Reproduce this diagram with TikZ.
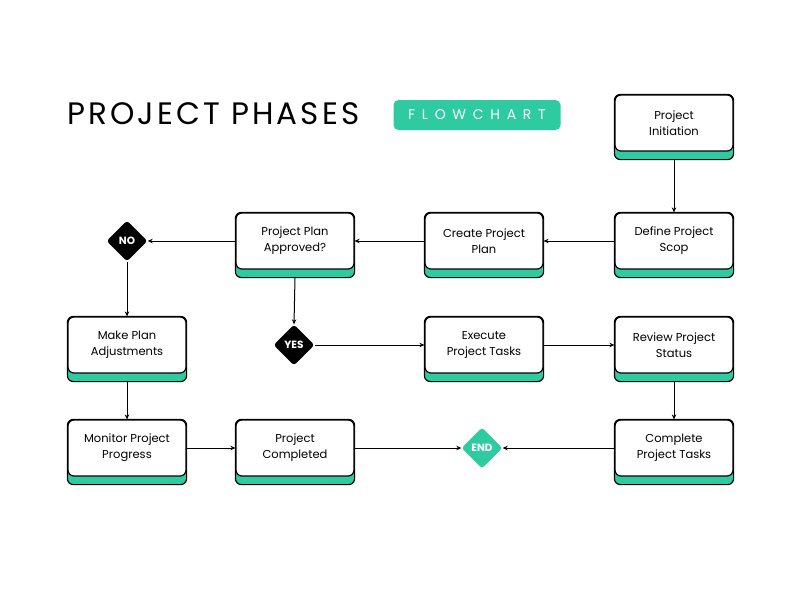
\documentclass[tikz,border=0pt]{standalone}
\usepackage{fontspec}
\setmainfont{Poppins}
\newfontfamily\badgefont[LetterSpace=48]{Poppins}
\newfontfamily\titlefont[LetterSpace=10]{Poppins}
\usetikzlibrary{shapes.geometric,arrows.meta,backgrounds}
\definecolor{mint}{HTML}{2ECBA1}
\newcommand{\strip}[1]{\draw[line width=1.2pt, fill=mint, rounded corners=6pt] (#1.north west) rectangle ([yshift=-8pt]#1.south east);}

\begin{document}
\begin{tikzpicture}[x=1pt,y=-1pt,
	phase/.style={draw, line width=1.2pt, fill=white, rounded corners=6pt, minimum width=118pt, minimum height=56pt, align=center, inner sep=2pt, font=\fontsize{11.5}{16}\selectfont},
	decision/.style={diamond, fill=black, rounded corners=3pt, minimum width=41pt, minimum height=41pt, inner sep=0pt, text=white, font=\fontsize{10.5}{10.5}\selectfont\bfseries},
	flow/.style={-{Stealth[length=5pt,width=4.5pt]}, line width=1pt}]
	\useasboundingbox (0,0) rectangle (800,600);
	% heading
	\node[anchor=west, inner sep=0pt, font=\titlefont\fontsize{31}{31}\selectfont] (title) at (67,114) {PROJECT PHASES};
	\node[fill=mint, rounded corners=5pt, minimum width=167pt, minimum height=30pt, text=white, font=\badgefont\fontsize{14}{14}\selectfont] (badge) at (477,115) {FLOWCHART};
	% phases
	\node[phase] (init) at (674,123) {Project\\Initiation};
	\node[phase] (scope) at (674,241) {Define Project\\Scop};
	\node[phase] (plan) at (484,241) {Create Project\\Plan};
	\node[phase] (approved) at (295,241) {Project Plan\\Approved?};
	\node[phase] (adjust) at (127,345) {Make Plan\\Adjustments};
	\node[phase] (execute) at (484,345) {Execute\\Project Tasks};
	\node[phase] (review) at (674,345) {Review Project\\Status};
	\node[phase] (monitor) at (127,448) {Monitor Project\\Progress};
	\node[phase] (completed) at (295,448) {Project\\Completed};
	\node[phase] (tasks) at (674,448) {Complete\\Project Tasks};
	% decisions
	\node[decision] (no) at (127,241) {NO};
	\node[decision] (yes) at (294,345) {YES};
	\node[decision, fill=mint] (end) at (482,448) {END};
	\begin{scope}[on background layer]
		\foreach \n in {init,scope,plan,approved,adjust,execute,review,monitor,completed,tasks}
			{\strip{\n}}
	\end{scope}
	% connectors
	\draw[flow] ([yshift=-8pt]init.south) -- (scope.north);
	\draw[flow] (scope.west) -- (plan.east);
	\draw[flow] (plan.west) -- (approved.east);
	\draw[flow] (approved.west) -- (no.east);
	\draw[flow] (no.south) -- (adjust.north);
	\draw[flow] ([yshift=-8pt]approved.south) -- (yes.north);
	\draw[flow] (yes.east) -- (execute.west);
	\draw[flow] (execute.east) -- (review.west);
	\draw[flow] ([yshift=-8pt]review.south) -- (tasks.north);
	\draw[flow] ([yshift=-8pt]adjust.south) -- (monitor.north);
	\draw[flow] (monitor.east) -- (completed.west);
	\draw[flow] (completed.east) -- (end.west);
	\draw[flow] (tasks.west) -- (end.east);
\end{tikzpicture}
\end{document}
